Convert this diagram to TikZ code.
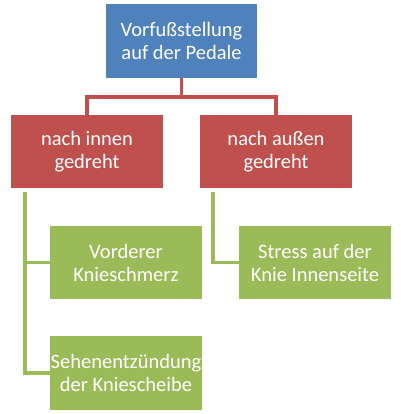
\documentclass[tikz,border=0pt]{standalone}
\usepackage{fontspec}
\setmainfont{Carlito}
\definecolor{boxblue}{HTML}{4F81BD}
\definecolor{boxred}{HTML}{C0504D}
\definecolor{boxgreen}{HTML}{9BBB59}
\tikzset{
  box/.style={minimum width=152pt, minimum height=73pt, inner sep=0pt,
    text=white, align=center, font=\fontsize{20.5}{23}\selectfont},
  redline/.style={draw=boxred, line width=3.5pt},
  greenline/.style={draw=boxgreen, line width=3.5pt}
}
\begin{document}
\begin{tikzpicture}[x=1pt,y=-1pt]
\useasboundingbox (0,0) rectangle (400,414);
% boxes
\node[box, fill=boxblue, minimum width=151pt, minimum height=74pt] (top) at (181.5,41) {Vorfußstellung\\auf der Pedale};
\node[box, fill=boxred] (innen) at (87,151.5) {nach innen\\gedreht};
\node[box, fill=boxred] (aussen) at (276,151.5) {nach außen\\gedreht};
\node[box, fill=boxgreen] (schmerz) at (126,262.5) {Vorderer\\Knieschmerz};
\node[box, fill=boxgreen, minimum height=74pt] (sehne) at (126,373) {Sehenentzündung\\der Kniescheibe};
\node[box, fill=boxgreen] (stress) at (315,262.5) {Stress auf der\\Knie Innenseite};
% red connectors
\coordinate (split) at (181.5,97);
\draw[redline] (top.south) -- (split);
\draw[redline] (split) -| (innen.north);
\draw[redline] (split) -| (aussen.north);
% green connectors
\coordinate (innenfoot) at (25,192);
\coordinate (aussenfoot) at (213,192);
\draw[greenline] (innenfoot) |- (schmerz.west);
\draw[greenline] (innenfoot) |- (sehne.west);
\draw[greenline] (aussenfoot) |- (stress.west);
\end{tikzpicture}
\end{document}
